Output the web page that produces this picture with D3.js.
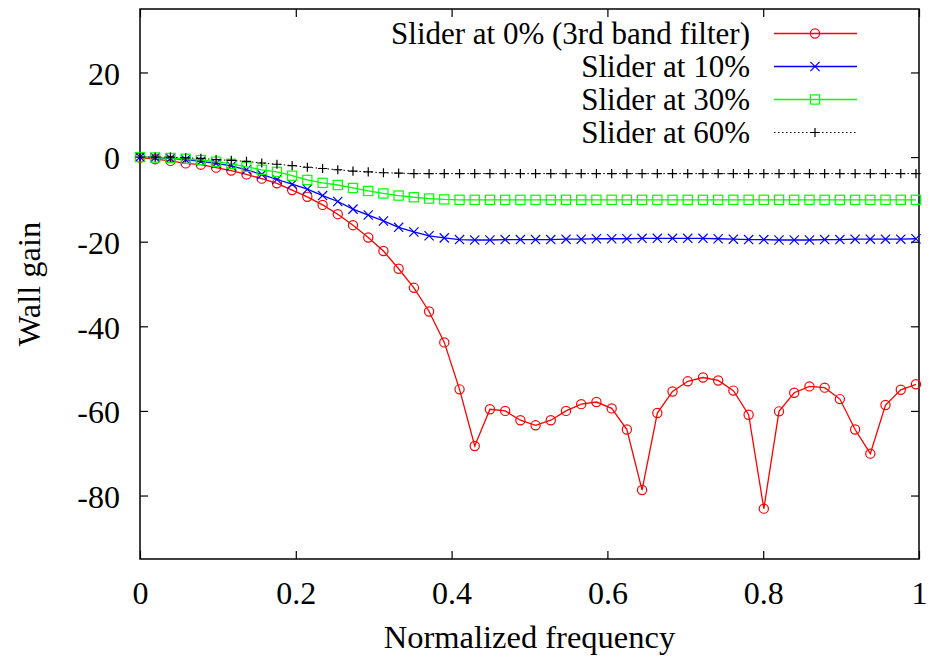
<!DOCTYPE html>
<html>
<head>
<meta charset="utf-8">
<script src="https://cdn.jsdelivr.net/npm/d3@7"></script>
<style>
body { margin: 0; background: #fff; }
text { font-family: "Liberation Serif", "Times New Roman", serif; fill: #000; }
</style>
</head>
<body>
<script>
var width = 928;
var height = 658;
var margin = {top: 9, right: 9, bottom: 99, left: 140};

// sample grid (normalized frequency)
var freq = [0, 0.0195, 0.0391, 0.0586, 0.0781, 0.0977, 0.1172, 0.1367, 0.1563, 0.1758,
    0.1953, 0.2148, 0.2344, 0.2539, 0.2734, 0.2930, 0.3125, 0.3320, 0.3516, 0.3711,
    0.3906, 0.4102, 0.4297, 0.4492, 0.4688, 0.4883, 0.5078, 0.5273, 0.5469, 0.5664,
    0.5859, 0.6055, 0.6250, 0.6445, 0.6641, 0.6836, 0.7031, 0.7227, 0.7422, 0.7617,
    0.7813, 0.8008, 0.8203, 0.8398, 0.8594, 0.8789, 0.8984, 0.9180, 0.9375, 0.9570,
    0.9766, 0.9961];

var slider0 = [-0.1, -0.5, -0.9, -1.5, -1.8, -2.5, -3.2, -4.1, -5.1, -6.2,
    -7.8, -9.4, -11.3, -13.5, -16.1, -19.0, -22.2, -26.4, -30.9, -36.5,
    -43.8, -54.9, -68.3, -59.6, -60.0, -62.2, -63.4, -62.2, -60.0, -58.4,
    -57.9, -59.4, -64.4, -78.7, -60.5, -55.4, -53.0, -52.1, -52.8, -55.2,
    -60.9, -83.1, -60.1, -55.7, -54.2, -54.5, -57.2, -64.4, -70.1, -58.6,
    -55.0, -53.7];

var slider10 = [0, -0.1, -0.3, -0.6, -1.0, -1.5, -2.1, -3.0, -4.1, -5.3,
    -6.4, -7.6, -9.1, -10.5, -12.3, -13.7, -15.1, -16.6, -17.7, -18.6,
    -19.1, -19.5, -19.6, -19.6, -19.5, -19.5, -19.5, -19.5, -19.4, -19.4,
    -19.3, -19.3, -19.3, -19.2, -19.2, -19.2, -19.2, -19.2, -19.3, -19.4,
    -19.5, -19.5, -19.6, -19.6, -19.6, -19.5, -19.5, -19.4, -19.4, -19.4,
    -19.4, -19.3];

var slider30 = [0, -0.1, -0.2, -0.4, -0.7, -1.1, -1.6, -2.3, -3.0, -3.5,
    -4.4, -5.4, -6.1, -6.6, -7.3, -8.0, -8.6, -9.1, -9.5, -9.8,
    -10.0, -10.1, -10.1, -10.1, -10.1, -10.1, -10.1, -10.1, -10.1, -10.1,
    -10.1, -10.1, -10.1, -10.1, -10.1, -10.1, -10.1, -10.1, -10.1, -10.1,
    -10.1, -10.1, -10.1, -10.1, -10.1, -10.1, -10.1, -10.1, -10.1, -10.1,
    -10.1, -10.1];

var slider60 = [0, 0, 0, -0.2, -0.3, -0.6, -0.8, -1.0, -1.4, -1.7,
    -2.0, -2.4, -2.7, -3.0, -3.3, -3.5, -3.7, -3.8, -3.9, -3.9,
    -3.9, -3.9, -3.9, -3.9, -3.9, -3.9, -3.9, -3.9, -3.9, -3.9,
    -3.9, -3.9, -3.9, -3.9, -3.9, -3.9, -3.9, -3.9, -3.9, -3.9,
    -3.9, -3.9, -3.9, -3.9, -3.9, -3.9, -3.9, -3.9, -3.9, -3.9,
    -3.9, -3.9];

var xTicks = [0, 0.2, 0.4, 0.6, 0.8, 1];
var yTicks = [20, 0, -20, -40, -60, -80];
var labels = ["Slider at 0% (3rd band filter)", "Slider at 10%", "Slider at 30%", "Slider at 60%"];
var colors = ["#ff0000", "#0000ff", "#00ff00", "#000000"];
var markers = ["circle", "cross", "square", "plus"];

var series = [slider0, slider10, slider30, slider60].map(function(vals, k) {
    return {name: labels[k], color: colors[k], marker: markers[k],
        values: vals.map(function(v, i) { return {x: freq[i], y: v}; })};
});

var x = d3.scaleLinear().domain([0, 1]).range([margin.left, width - margin.right]);
var y = d3.scaleLinear().domain([-95, 35]).range([height - margin.bottom, margin.top]);

var svg = d3.select("body").append("svg")
    .attr("width", width)
    .attr("height", height);

// gnuplot style: ticks inward and mirrored
var tl = 8;
svg.append("g")
    .attr("transform", "translate(0," + (height - margin.bottom) + ")")
    .call(d3.axisBottom(x).tickValues(xTicks).tickSize(-tl).tickPadding(22).tickFormat(d3.format("")))
    .call(function(g) { g.select(".domain").remove(); });
svg.append("g")
    .attr("transform", "translate(0," + margin.top + ")")
    .call(d3.axisTop(x).tickValues(xTicks).tickSize(-tl).tickFormat(""))
    .call(function(g) { g.select(".domain").remove(); });
var yAxis = svg.append("g")
    .attr("transform", "translate(" + margin.left + ",0)")
    .call(d3.axisLeft(y).tickValues(yTicks).tickSize(-tl).tickPadding(20).tickFormat(function(d) { return String(d); }))
    .call(function(g) { g.select(".domain").remove(); });
svg.append("g")
    .attr("transform", "translate(" + (width - margin.right) + ",0)")
    .call(d3.axisRight(y).tickValues(yTicks).tickSize(-tl).tickFormat(""))
    .call(function(g) { g.select(".domain").remove(); });

svg.selectAll(".tick line").attr("stroke", "#000").attr("stroke-width", 1.2);
svg.selectAll(".tick text")
    .style("font-family", "'Liberation Serif', serif")
    .style("font-size", "32px")
    .attr("fill", "#000");
yAxis.selectAll(".tick text").attr("dy", "0.37em");

// frame
svg.append("rect")
    .attr("x", margin.left)
    .attr("y", margin.top)
    .attr("width", width - margin.left - margin.right)
    .attr("height", height - margin.top - margin.bottom)
    .attr("fill", "none")
    .attr("stroke", "#000")
    .attr("stroke-width", 1.5);

function drawMarker(sel, type, color) {
    var s = 4.6;
    if (type == "circle") {
        sel.append("circle").attr("r", s).attr("fill", "none").attr("stroke", color);
    } else if (type == "square") {
        sel.append("rect").attr("x", -s).attr("y", -s).attr("width", 2 * s).attr("height", 2 * s)
            .attr("fill", "none").attr("stroke", color);
    } else if (type == "cross") {
        sel.append("path").attr("d", "M" + -s + "," + -s + "L" + s + "," + s + "M" + -s + "," + s + "L" + s + "," + -s)
            .attr("stroke", color);
    } else {
        sel.append("path").attr("d", "M" + -s + ",0H" + s + "M0," + -s + "V" + s)
            .attr("stroke", color);
    }
    sel.attr("stroke-width", 1.2);
}

var line = d3.line()
    .x(function(d) { return x(d.x); })
    .y(function(d) { return y(d.y); });

series.forEach(function(s) {
    var g = svg.append("g");
    g.append("path")
        .datum(s.values)
        .attr("d", line)
        .attr("fill", "none")
        .attr("stroke", s.color)
        .attr("stroke-width", s.marker == "plus" ? 1 : 1.3)
        .attr("stroke-dasharray", s.marker == "plus" ? "1.5,2.5" : null);
    g.selectAll(".pt")
        .data(s.values)
        .enter()
        .append("g")
        .attr("class", "pt")
        .attr("transform", function(d) { return "translate(" + x(d.x) + "," + y(d.y) + ")"; })
        .each(function() { drawMarker(d3.select(this), s.marker, s.color); });
});

// legend
var legend = svg.append("g");
series.forEach(function(s, k) {
    var ly = 33.5 + k * 33;
    legend.append("text")
        .attr("x", 750)
        .attr("y", ly + 10.5)
        .attr("text-anchor", "end")
        .style("font-size", "31px")
        .text(s.name);
    legend.append("line")
        .attr("x1", 774).attr("x2", 857)
        .attr("y1", ly).attr("y2", ly)
        .attr("stroke", s.color)
        .attr("stroke-width", s.marker == "plus" ? 1 : 1.3)
        .attr("stroke-dasharray", s.marker == "plus" ? "1.5,2.5" : null);
    var m = legend.append("g").attr("transform", "translate(815," + ly + ")");
    drawMarker(m, s.marker, s.color);
});

// axis titles
svg.append("text")
    .attr("x", (margin.left + width - margin.right) / 2)
    .attr("y", 648)
    .attr("text-anchor", "middle")
    .style("font-size", "32.5px")
    .text("Normalized frequency");

svg.append("text")
    .attr("transform", "translate(40," + ((margin.top + height - margin.bottom) / 2) + ") rotate(-90)")
    .attr("text-anchor", "middle")
    .style("font-size", "32.5px")
    .text("Wall gain");
</script>
</body>
</html>
